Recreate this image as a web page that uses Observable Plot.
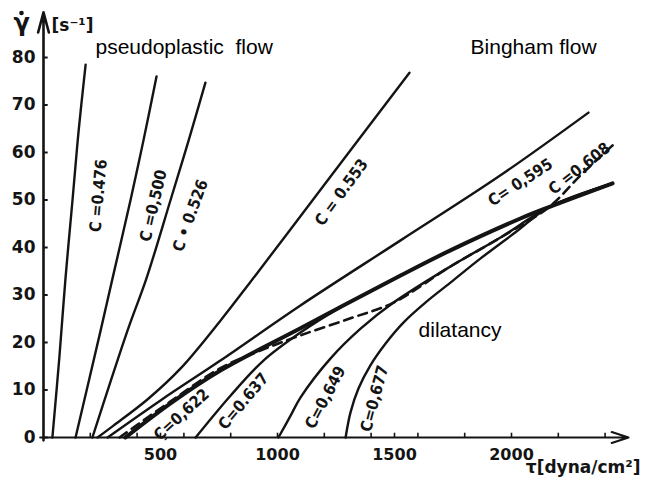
<!DOCTYPE html>
<html>
<head>
<meta charset="utf-8">
<script src="https://cdn.jsdelivr.net/npm/d3@7"></script>
<script src="https://cdn.jsdelivr.net/npm/@observablehq/plot@0.6"></script>
<style>
  html, body { margin: 0; padding: 0; background: #fff; }
  #chart svg { display: block; }
</style>
</head>
<body>
<div id="chart"></div>
<script>
// Flow curves of suspensions: shear rate γ̇ [1/s] against shear stress τ [dyna/cm²],
// one curve per volume concentration C. Each curve is a list of [τ, γ̇] readings.
const concentrations = ["0.476", "0.500", "0.526", "0.553", "0.595", "0.608", "0.622", "0.637", "0.649", "0.677"];

const c0476 = [[38, 0], [68, 17], [94, 33.5], [124, 50], [150, 64.5], [180, 78.5]];
const c0500 = [[137, 0], [244, 22.5], [295, 33.5], [372, 50], [427, 62.5], [483, 76]];
const c0526 = [[209, 0], [359, 22.5], [440, 33.5], [543, 50], [620, 62.5], [692, 74.7]];
const c0553 = [[231, 0], [299, 2.5], [444, 8], [585, 14.5], [756, 24.6], [885, 32.8], [1026, 41.9], [1226, 54.9], [1564, 76.8]];
const c0595 = [[274, 0], [500, 7.8], [756, 16.2], [1098, 27.8], [1526, 41.5], [1953, 55.2], [2329, 68.4]];
const c0608 = [[325, 0], [543, 7.6], [756, 14.6], [927, 18.3], [1098, 21.5], [1312, 25.1], [1496, 28.4], [1739, 36], [1953, 42.1], [2160, 48.5], [2295, 55.2], [2432, 61.5]];
const c0622 = [[350, 0], [543, 7.2], [756, 14.1], [1098, 23], [1526, 34.1], [1739, 39.4], [2038, 46.1], [2160, 48.5], [2432, 53.5]];
const c0637 = [[650, 0], [799, 8.8], [940, 16.2], [1098, 22.1], [1269, 27.4], [1526, 34.1], [1739, 39.4], [2038, 46.1], [2160, 48.5], [2432, 53.5]];
const c0649 = [[1004, 0], [1056, 4.6], [1098, 8.4], [1226, 16.6], [1355, 22.9], [1496, 28.4], [1739, 36], [1953, 42.1], [2160, 48.5], [2432, 53.5]];
const c0677 = [[1291, 0], [1312, 5.3], [1346, 10.3], [1397, 15.2], [1462, 19.8], [1538, 24.2], [1632, 28.4], [1739, 32.6], [1868, 37.7], [2017, 43.2], [2160, 48.5], [2432, 53.5]];

const curveReadings = [c0476, c0500, c0526, c0553, c0595, c0608, c0622, c0637, c0649, c0677];

// Curve labels: text and where each sits along its curve (τ, γ̇, angle).
const labelTexts  = ["C =0.476", "C =0,500", "C • 0.526", "C = 0.553", "C= 0,595", "C =0,608", "Ç=0,622", "C=0.637", "C=0,649", "C=0,677"];
const labelTau    = [235, 470, 628, 1274, 2038, 2290, 590, 855, 1205, 1415];
const labelGamma  = [50.9, 48.8, 46.7, 51.6, 53.7, 56.6, 4.8, 7.6, 8.4, 8.2];
const labelAngle  = [-85, -77, -70, -54, -33, -38, -42, -50, -62, -75];

// Axis ticks and tick labels
const yTickValues = [0, 10, 20, 30, 40, 50, 60, 70, 80];
const xTickLabels = [500, 1000, 1500, 2000];
const xTickMarks  = [200, 400, 500, 600, 800, 1000, 1200, 1400, 1500, 1600, 1800, 2000, 2200, 2400];

// Flow regime annotations
const regimeNames = ["pseudoplastic\u00a0 flow", "Bingham flow", "dilatancy"];
const regimeTau   = [222, 1825, 1603];
const regimeGamma = [82.1, 82.1, 22.5];

// Tables built from the arrays above
const rows = concentrations.flatMap((c, i) =>
  curveReadings[i].map(([tau, gamma]) => ({c, tau, gamma})));
const labels = concentrations.map((c, i) => ({
  c, text: labelTexts[i], tau: labelTau[i], gamma: labelGamma[i], angle: labelAngle[i]
}));
const regimes = regimeNames.map((name, i) => ({name, tau: regimeTau[i], gamma: regimeGamma[i]}));

const ink = "#141414";
const dashed = new Set(["0.608"]);
const heavy = new Set(["0.622"]);
const numFont = "'DejaVu Sans', sans-serif";
const labelFont = "'DejaVu Sans Condensed', 'DejaVu Sans', sans-serif";

const chart = Plot.plot({
  width: 659,
  height: 491,
  marginLeft: 43,
  marginRight: 31,
  marginTop: 9.5,
  marginBottom: 54,
  style: {background: "#fff", color: ink},
  x: {domain: [0, 2500], axis: null},
  y: {domain: [0, 90], axis: null},
  marks: [
    // axes with arrow heads
    Plot.arrow([{x1: -14, y1: 0, x2: 2500, y2: 0}], {
      x1: "x1", y1: "y1", x2: "x2", y2: "y2",
      stroke: ink, strokeWidth: 2.2, headLength: 12, headAngle: 36
    }),
    Plot.arrow([{x1: 0, y1: -0.6, x2: 0, y2: 89.5}], {
      x1: "x1", y1: "y1", x2: "x2", y2: "y2",
      stroke: ink, strokeWidth: 2.6, headLength: 12, headAngle: 30
    }),
    Plot.ruleY(yTickValues, {y: d => d, x1: 0, x2: 20, stroke: ink, strokeWidth: 2}),
    Plot.ruleX(xTickMarks, {x: d => d, y1: 0, y2: 0.9, stroke: ink, strokeWidth: 1.6}),
    Plot.text(yTickValues, {
      x: 0, y: d => d, text: d => String(d), dx: -8, textAnchor: "end",
      fontSize: 17, fontWeight: "bold", fontFamily: numFont, fill: ink
    }),
    Plot.text(xTickLabels, {
      x: d => d, y: 0, text: d => String(d), dy: 17,
      fontSize: 16, fontWeight: "bold", fontFamily: numFont, fill: ink
    }),

    // flow curves
    Plot.line(rows.filter(d => !dashed.has(d.c) && !heavy.has(d.c)), {
      x: "tau", y: "gamma", z: "c", curve: "catmull-rom",
      stroke: ink, strokeWidth: 2.4, strokeLinecap: "round"
    }),
    Plot.line(rows.filter(d => heavy.has(d.c)), {
      x: "tau", y: "gamma", z: "c", curve: "catmull-rom",
      stroke: ink, strokeWidth: 4, strokeLinecap: "round"
    }),
    Plot.line(rows.filter(d => dashed.has(d.c)), {
      x: "tau", y: "gamma", z: "c", curve: "catmull-rom",
      stroke: ink, strokeWidth: 2.6, strokeDasharray: "9,6"
    }),

    // curve labels
    Plot.text(labels, {
      x: "tau", y: "gamma", text: "text", rotate: "angle",
      fontSize: 16, fontWeight: "bold", fontFamily: labelFont, fill: ink
    }),

    // regime names
    Plot.text(regimes, {
      x: "tau", y: "gamma", text: "name", textAnchor: "start",
      fontSize: 21, fontFamily: "'Liberation Sans', Arial, sans-serif", fill: "#000"
    }),

    // axis titles: γ with its rate dot, unit, and τ
    Plot.text(["γ"], {
      frameAnchor: "top-left", dx: -30, dy: 4, text: d => d,
      fontSize: 24, fontWeight: "bold", fontFamily: numFont, fill: ink
    }),
    Plot.dot([0], {
      frameAnchor: "top-left", dx: -22, dy: 3, r: 2.3, fill: ink, stroke: "none"
    }),
    Plot.text(["[s⁻¹]"], {
      frameAnchor: "top-left", dx: 8, dy: 9, text: d => d, textAnchor: "start",
      fontSize: 17, fontWeight: "bold", fontFamily: numFont, fill: ink
    }),
    Plot.text(["τ[dyna/cm²]"], {
      frameAnchor: "bottom-right", dx: 12, dy: 35, text: d => d, textAnchor: "end",
      fontSize: 17, fontWeight: "bold", fontFamily: numFont, fill: ink
    })
  ]
});

document.getElementById("chart").append(chart);
</script>
</body>
</html>
